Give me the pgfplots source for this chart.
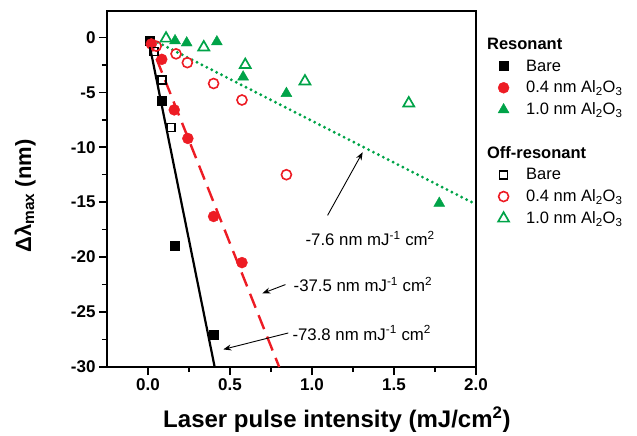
\documentclass[border=0pt]{standalone}
\usepackage{pgfplots}
\pgfplotsset{compat=1.18}
\usepackage{fontspec}
\setmainfont{Liberation Sans}
\usetikzlibrary{arrows.meta}
\definecolor{fitred}{RGB}{237,28,36}
\definecolor{fitgreen}{RGB}{0,163,72}

\begin{document}
\begin{tikzpicture}
\path[use as bounding box] (0pt,0pt) rectangle (637pt,436pt);
\begin{axis}[
  name=ax,
  at={(107pt,69pt)}, anchor=south west,
  scale only axis, width=369pt, height=356pt,
  clip=false,
  xmin=-0.25, xmax=2.0, ymin=-30, ymax=2.4,
  xtick={0,0.5,...,2}, ytick={-30,-25,...,0},
  minor x tick num=1, minor y tick num=1,
  tick align=outside, xtick pos=bottom, ytick pos=left,
  major tick length=8pt, minor tick length=5pt,
  every tick/.style={black, line width=1.5pt},
  axis line style={line width=1.6pt},
  /pgf/number format/assume math mode=true,
  xticklabel style={/pgf/number format/fixed, /pgf/number format/fixed zerofill, /pgf/number format/precision=1},
  tick label style={font=\fontsize{17}{17}\selectfont\bfseries},
  xlabel={\textbf{Laser pulse intensity (mJ/cm\textsuperscript{2})}},
  ylabel={\textbf{Δλ\textsubscript{max} (nm)}},
  xlabel style={font=\fontsize{24}{24}\selectfont, at={(axis description cs:0.623,-0.149)}, anchor=center},
  ylabel style={font=\fontsize{22}{22}\selectfont, at={(axis description cs:-0.222,0.48)}, anchor=center},
  legend style={at={(axis description cs:1.043,0.935)}, anchor=north west, draw=none, fill=none,
    font=\fontsize{16.5}{16.5}\selectfont, row sep=4.5pt,
    /tikz/every odd column/.append style={column sep=15pt}},
  legend cell align=left,
]
% frame (top and right)
\draw[black, line width=1.8pt] (rel axis cs:0,1) -- (rel axis cs:1,1) -- (rel axis cs:1,0);
% fitted lines
\addplot[black, line width=2.2pt, forget plot] coordinates {(0,0)(0.4065,-30)};
\addplot[fitred, line width=2.4pt, dash pattern=on 15pt off 8pt, forget plot] coordinates {(0,0)(0.8,-30)};
\addplot[fitgreen, line width=3.2pt, dash pattern=on 0pt off 5.5pt, line cap=round, forget plot] coordinates {(0,0)(2,-15.2)};

\addlegendimage{empty legend}
\addlegendentry{\hspace*{-39pt}\textbf{Resonant}}
\addplot[only marks, mark=square*, mark size=4.5pt, black] coordinates {
  (0.012,-0.3)(0.084,-5.8)(0.16,-19.0)(0.40,-27.1)};
\addlegendentry{Bare}
\addplot[only marks, mark=*, mark size=5.5pt, fitred] coordinates {
  (0.02,-0.6)(0.084,-2.0)(0.16,-6.6)(0.243,-9.2)(0.40,-16.3)(0.573,-20.5)};
\addlegendentry{0.4 nm Al\textsubscript{2}O\textsubscript{3}}
\addplot[only marks, mark=triangle*, mark size=6.3pt, fitgreen] coordinates {
  (0.165,-0.3)(0.236,-0.5)(0.42,-0.4)(0.58,-3.6)(0.844,-5.1)(1.776,-15.1)};
\addlegendentry{1.0 nm Al\textsubscript{2}O\textsubscript{3}}

\addlegendimage{empty legend}
\addlegendentry{\strut}
\addlegendimage{empty legend}
\addlegendentry{\hspace*{-39pt}\textbf{Off-resonant}}
\addplot[only marks, mark=square, mark size=4pt, black, line width=1.7pt, mark options={fill=white}] coordinates {
  (0.035,-1.3)(0.084,-3.9)(0.139,-8.2)};
\addlegendentry{Bare}
\addplot[only marks, mark=o, mark size=5pt, fitred, line width=1.6pt] coordinates {
  (0.05,-0.8)(0.171,-1.5)(0.24,-2.3)(0.40,-4.2)(0.573,-5.7)(0.844,-12.5)};
\addlegendentry{0.4 nm Al\textsubscript{2}O\textsubscript{3}}
\addplot[only marks, mark=triangle, mark size=6.3pt, fitgreen, line width=1.7pt] coordinates {
  (0.11,-0.1)(0.34,-0.9)(0.593,-2.5)(0.957,-4.0)(1.59,-6.0)};
\addlegendentry{1.0 nm Al\textsubscript{2}O\textsubscript{3}}

% annotations
\draw[-{Stealth[length=8pt,width=6pt]}, line width=0.9pt] (axis cs:1.095,-16.2) -- (axis cs:1.309,-10.45);
\draw[-{Stealth[length=8pt,width=6pt]}, line width=0.9pt] (axis cs:0.838,-22.5) -- (axis cs:0.697,-23.3);
\draw[-{Stealth[length=8pt,width=6pt]}, line width=0.9pt] (axis cs:0.856,-26.9) -- (axis cs:0.459,-28.4);
\node[anchor=west, inner sep=0pt, font=\fontsize{16.8}{16.8}\selectfont] at (axis cs:0.96,-18.3) {-7.6 nm mJ\textsuperscript{-1} cm\textsuperscript{2}};
\node[anchor=west, inner sep=0pt, font=\fontsize{16.8}{16.8}\selectfont] at (axis cs:0.887,-22.5) {-37.5 nm mJ\textsuperscript{-1} cm\textsuperscript{2}};
\node[anchor=west, inner sep=0pt, font=\fontsize{16.8}{16.8}\selectfont] at (axis cs:0.88,-26.9) {-73.8 nm mJ\textsuperscript{-1} cm\textsuperscript{2}};
\end{axis}
\end{tikzpicture}
\end{document}
